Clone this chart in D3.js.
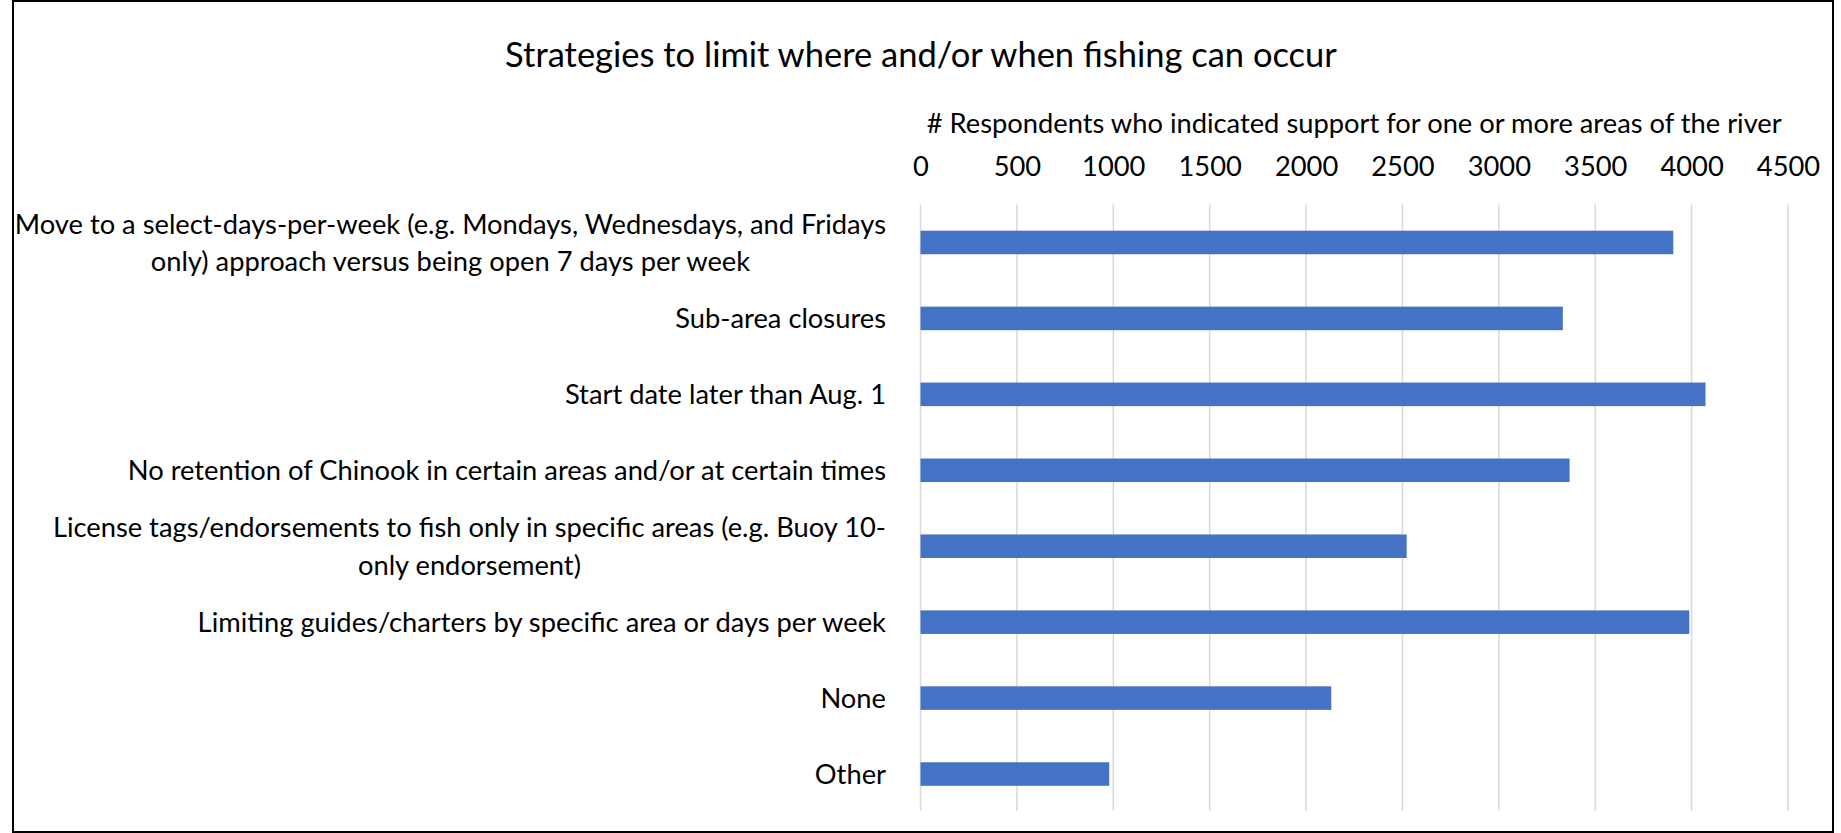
<!DOCTYPE html>
<html>
<head>
<meta charset="utf-8">
<script src="https://cdn.jsdelivr.net/npm/d3@7"></script>
<style>
  body { margin: 0; background: #fff; }
  svg text { font-family: Lato, "Open Sans", sans-serif; fill: #000; }
</style>
</head>
<body>
<svg width="1841" height="833"></svg>
<script>
var title = "Strategies to limit where and/or when fishing can occur";
var axisTitle = "# Respondents who indicated support for one or more areas of the river";

// category labels, "\n" marks where the original wraps
var categories = [
    "Move to a select-days-per-week (e.g. Mondays, Wednesdays, and Fridays\nonly) approach versus being open 7 days per week",
    "Sub-area closures",
    "Start date later than Aug. 1",
    "No retention of Chinook in certain areas and/or at certain times",
    "License tags/endorsements to fish only in specific areas (e.g. Buoy 10-\nonly endorsement)",
    "Limiting guides/charters by specific area or days per week",
    "None",
    "Other"
];
var values = [3905, 3332, 4072, 3367, 2522, 3988, 2131, 979];
var tickValues = [0, 500, 1000, 1500, 2000, 2500, 3000, 3500, 4000, 4500];

var svg = d3.select("svg"),
    width = +svg.attr("width"),
    height = +svg.attr("height");

var plot = {left: 920.5, right: 1788, top: 204.5, bottom: 812};
var fontSize = 27.3;

// chart border
svg.append("rect")
    .attr("x", 13).attr("y", 1)
    .attr("width", 1820).attr("height", 831)
    .attr("fill", "#fff")
    .attr("stroke", "#000")
    .attr("stroke-width", 2);

var x = d3.scaleLinear().domain([0, 4500]).range([plot.left, plot.right]);
var y = d3.scaleBand()
    .domain(categories)
    .range([plot.top, plot.bottom])
    .paddingInner(0.69)
    .paddingOuter(0.345);

// gridlines
svg.append("g")
    .attr("class", "grid")
    .selectAll("line")
    .data(tickValues)
    .enter().append("line")
    .attr("x1", function(d) { return x(d); })
    .attr("x2", function(d) { return x(d); })
    .attr("y1", plot.top)
    .attr("y2", plot.bottom - 1)
    .attr("stroke", "#d9d9d9")
    .attr("stroke-width", 1.5);

// top axis labels
var axis = d3.axisTop(x)
    .tickValues(tickValues)
    .tickFormat(d3.format("d"))
    .tickSize(0)
    .tickPadding(0);
var axisG = svg.append("g")
    .attr("transform", "translate(0,176)")
    .call(axis);
axisG.select(".domain").remove();
axisG.selectAll("text")
    .attr("font-size", fontSize)
    .style("font-family", "Lato")
    .attr("fill", "#000");

svg.append("text")
    .attr("x", (plot.left + plot.right) / 2)
    .attr("y", 133)
    .attr("text-anchor", "middle")
    .attr("font-size", fontSize)
    .text(axisTitle);

svg.append("text")
    .attr("x", 921)
    .attr("y", 67)
    .attr("text-anchor", "middle")
    .attr("font-size", 34.5)
    .text(title);

// bars
svg.append("g")
    .attr("class", "bars")
    .selectAll("rect")
    .data(values)
    .enter().append("rect")
    .attr("x", x(0))
    .attr("y", function(d, i) { return y(categories[i]); })
    .attr("width", function(d) { return x(d) - x(0); })
    .attr("height", y.bandwidth())
    .attr("fill", "#4472c4");

// category labels: block right-aligned, wrapped lines centred in the block
var labelRight = 886, lineH = 37.6;
var labelG = svg.append("g").attr("class", "labels");
categories.forEach(function(c) {
    var lines = c.split("\n");
    var cy = y(c) + y.bandwidth() / 2;
    var t = labelG.append("text")
        .attr("font-size", fontSize)
        .attr("text-anchor", "middle");
    var spans = lines.map(function(l, i) {
        return t.append("tspan")
            .attr("y", cy + (i - (lines.length - 1) / 2) * lineH + 10)
            .text(l);
    });
    var w = d3.max(spans, function(s) { return s.node().getComputedTextLength(); });
    spans.forEach(function(s) { s.attr("x", labelRight - w / 2); });
});
</script>
</body>
</html>
